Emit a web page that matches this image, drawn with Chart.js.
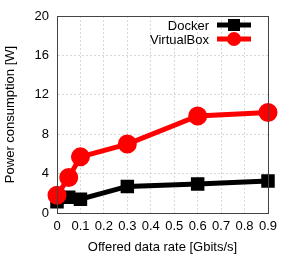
<!DOCTYPE html>
<html>
<head>
<meta charset="utf-8">
<script src="https://cdn.jsdelivr.net/npm/chart.js@4"></script>
<style>
  html, body { margin: 0; padding: 0; background: #fff; }
  #wrap { width: 291px; height: 255px; }
</style>
</head>
<body>
<div id="wrap"><canvas id="powerChart" width="291" height="255"></canvas></div>
<script>
// data rates offered (Gbits/s)
const rates = [0, 0.05, 0.1, 0.3, 0.6, 0.9];
const dockerPower = [1.15, 1.6, 1.4, 2.7, 2.95, 3.25];
const vboxPower = [1.8, 3.6, 5.7, 7.0, 9.85, 10.2];
const xTicks = [0, 0.1, 0.2, 0.3, 0.4, 0.5, 0.6, 0.7, 0.8, 0.9];
const yTicks = [0, 4, 8, 12, 16, 20];

const FONT = "'Liberation Sans', Arial, sans-serif";

function toPoints(ys) {
    return rates.map((x, i) => ({ x: x, y: ys[i] }));
}

// frame around the plot + legend drawn inside the top right corner
const framePlugin = {
    id: 'frame',
    afterDraw(chart) {
        const ctx = chart.ctx;
        const a = chart.chartArea;
        ctx.save();
        ctx.strokeStyle = '#444';
        ctx.lineWidth = 1;
        ctx.strokeRect(a.left + 0.5, a.top + 0.5, a.right - a.left, a.bottom - a.top);

        ctx.font = '13px ' + FONT;
        ctx.textAlign = 'right';
        ctx.textBaseline = 'middle';
        chart.data.datasets.forEach((ds, i) => {
            const y = a.top + 9 + i * 14;
            const x0 = a.right - 51;
            ctx.fillStyle = '#000';
            ctx.fillText(ds.label, x0 - 8, y + 1);
            ctx.strokeStyle = ds.borderColor;
            ctx.lineWidth = 5;
            ctx.beginPath();
            ctx.moveTo(x0, y);
            ctx.lineTo(x0 + 34, y);
            ctx.stroke();
            ctx.fillStyle = ds.borderColor;
            if (ds.pointStyle === 'rect') {
                ctx.fillRect(x0 + 17 - 6, y - 6, 12, 12);
            } else {
                ctx.beginPath();
                ctx.arc(x0 + 17, y, 7, 0, Math.PI * 2);
                ctx.fill();
            }
        });
        ctx.restore();
    }
};

new Chart(document.getElementById('powerChart'), {
    type: 'line',
    data: {
        datasets: [{
            label: 'Docker',
            data: toPoints(dockerPower),
            borderColor: '#000000',
            backgroundColor: '#000000',
            borderWidth: 5,
            pointStyle: 'rect',
            pointRadius: 6,
            pointHoverRadius: 6,
            tension: 0,
            clip: false,
            order: 1
        }, {
            label: 'VirtualBox',
            data: toPoints(vboxPower),
            borderColor: '#ff0000',
            backgroundColor: '#ff0000',
            borderWidth: 5,
            pointStyle: 'circle',
            pointRadius: 7,
            pointHoverRadius: 7,
            tension: 0,
            clip: false,
            order: 0
        }]
    },
    options: {
        responsive: false,
        animation: false,
        layout: { padding: { top: 16, right: 23, left: 0, bottom: 0 } },
        plugins: {
            legend: { display: false },
            tooltip: { enabled: false }
        },
        scales: {
            x: {
                type: 'linear',
                min: 0,
                max: 0.9,
                afterBuildTicks(scale) {
                    scale.ticks = xTicks.map(v => ({ value: v }));
                },
                afterFit(scale) { scale.height = 42; },
                grid: {
                    color: '#d8d8d8',
                    lineWidth: 1,
                    drawTicks: false
                },
                border: { display: true, color: '#444', dash: [2, 2] },
                ticks: {
                    color: '#000',
                    font: { family: FONT, size: 13 },
                    padding: 6,
                    maxRotation: 0,
                    callback: v => (v === 0 ? '0' : String(Math.round(v * 10) / 10))
                },
                title: {
                    display: true,
                    text: 'Offered data rate [Gbits/s]',
                    color: '#000',
                    font: { family: FONT, size: 13 },
                    padding: { top: 4, bottom: 0 }
                }
            },
            y: {
                min: 0,
                max: 20,
                afterBuildTicks(scale) {
                    scale.ticks = yTicks.map(v => ({ value: v }));
                },
                afterFit(scale) { scale.width = 57; },
                grid: {
                    color: '#d8d8d8',
                    lineWidth: 1,
                    drawTicks: false
                },
                border: { display: true, color: '#444', dash: [2, 2] },
                ticks: {
                    color: '#000',
                    font: { family: FONT, size: 13 },
                    padding: 8
                },
                title: {
                    display: true,
                    text: 'Power consumption [W]',
                    color: '#000',
                    font: { family: FONT, size: 13 },
                    padding: { top: 3, bottom: 6 }
                }
            }
        }
    },
    plugins: [framePlugin]
});
</script>
</body>
</html>
